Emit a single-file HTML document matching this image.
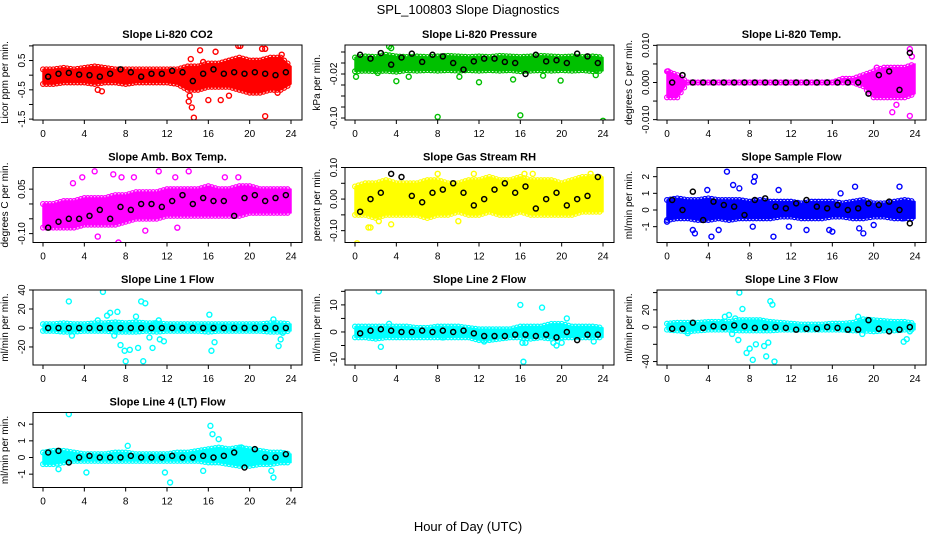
<!DOCTYPE html>
<html><head><meta charset="utf-8"><style>
body{margin:0;background:#fff;}
svg{display:block;font-family:"Liberation Sans",sans-serif;}
</style></head><body>
<svg id="chart" width="936" height="540" viewBox="0 0 936 540">
<text x="468" y="14" text-anchor="middle" font-size="13">SPL_100803  Slope Diagnostics</text>
<text x="468" y="531" text-anchor="middle" font-size="13">Hour of Day (UTC)</text>
</svg>
<script>
const xTicks=[0,4,8,12,16,20,24];
const blackHours=[0.5,1.5,2.5,3.5,4.5,5.5,6.5,7.5,8.5,9.5,10.5,11.5,12.5,13.5,14.5,15.5,16.5,17.5,18.5,19.5,20.5,21.5,22.5,23.5];

const p1Lo=[-0.3,-0.3,-0.25,-0.25,-0.25,-0.3,-0.25,-0.25,-0.3,-0.25,-0.25,-0.25,-0.25,-0.3,-0.5,-0.5,-0.4,-0.4,-0.4,-0.5,-0.6,-0.6,-0.5,-0.5,-0.3];
const p1Hi=[0.2,0.2,0.25,0.2,0.25,0.3,0.25,0.2,0.2,0.2,0.2,0.2,0.2,0.2,0.3,0.3,0.4,0.4,0.5,0.6,0.5,0.5,0.6,0.6,0.3];
const p1OutH=[5.3,5.7,14.1,14.2,14.4,14.6,14.3,15.2,15.5,16.0,16.7,17.2,18.0,18.9,19.1,20.3,21.2,21.5,21.5,22.7,23.1];
const p1OutV=[-0.5,-0.55,-0.9,-0.7,-1.1,-1.45,0.55,0.85,0.45,-0.85,0.8,-0.85,-0.7,1.0,1.0,-0.5,0.9,0.9,-1.4,-0.6,0.7];
const p1Black=[-0.05,0.05,0.08,0.02,0.0,-0.05,0.05,0.2,0.1,-0.05,0.05,0.05,0.15,0.1,-0.2,0.05,0.2,0.05,0.1,0.05,0.1,0.05,0.0,0.1];
const p1Ticks=[-1.5,-1,-0.5,0,0.5,1];
const p1Labels=["-1.5","","-0.5","","0.5",""];

const p2Lo=[-0.015,-0.014,-0.015,-0.014,-0.016,-0.013,-0.014,-0.013,-0.014,-0.013,-0.014,-0.013,-0.014,-0.013,-0.014,-0.013,-0.015,-0.014,-0.013,-0.014,-0.013,-0.014,-0.013,-0.015,-0.014];
const p2Hi=[0.01,0.012,0.011,0.015,0.012,0.011,0.012,0.011,0.012,0.013,0.012,0.011,0.012,0.011,0.013,0.012,0.011,0.012,0.013,0.012,0.011,0.012,0.011,0.012,0.01];
const p2OutH=[0.1,2.2,3.3,3.5,4.0,5.2,8.0,10.1,12.0,15.3,16.0,18.2,19.9,23.3,24.0];
const p2OutV=[-0.025,-0.018,0.03,0.027,-0.033,-0.025,-0.098,-0.025,-0.035,-0.03,-0.095,-0.023,-0.032,-0.022,-0.105];
const p2Black=[0.015,0.008,0.018,-0.003,0.01,0.017,0.002,0.015,0.012,0.0,-0.012,0.003,0.008,0.008,0.002,0.0,-0.02,0.015,0.003,0.005,0.0,0.017,0.012,0.0];
const p2Ticks=[-0.1,-0.08,-0.06,-0.04,-0.02,0,0.02];
const p2Labels=["-0.10","","","","-0.02","",""];

const p3Lo=[-0.004,-0.004,0,0,0,0,0,0,0,0,0,0,0,0,0,0,0,0,0,-0.001,-0.004,-0.004,-0.004,-0.004,-0.003];
const p3Hi=[0.003,0.002,0,0,0,0,0,0,0,0,0,0,0,0,0,0,0,0.001,0.001,0.002,0.003,0.004,0.004,0.004,0.005];
const p3OutH=[0.1,21.8,22.2,23.5,23.5,23.7,20.3];
const p3OutV=[0.003,-0.008,-0.006,0.009,-0.009,0.007,0.004];
const p3Black=[0,0.002,0,0,0,0,0,0,0,0,0,0,0,0,0,0,0,0,0,-0.003,0.002,0.003,-0.002,0.008];
const p3Ticks=[-0.01,-0.005,0,0.005,0.01];
const p3Labels=["-0.010","","0.000","","0.010"];

const p4Lo=[-0.08,-0.08,-0.08,-0.08,-0.07,-0.07,-0.07,-0.07,-0.06,-0.05,-0.05,-0.05,-0.04,-0.04,-0.04,-0.04,-0.04,-0.04,-0.04,-0.04,-0.03,-0.03,-0.03,-0.03,-0.03];
const p4Hi=[0.0,0.0,0.01,0.01,0.02,0.02,0.02,0.03,0.03,0.04,0.04,0.04,0.05,0.05,0.05,0.05,0.06,0.05,0.05,0.06,0.06,0.05,0.05,0.05,0.05];
const p4OutH=[5.0,5.3,7.3,7.6,8.8,11.2,12.8,14.1,17.6,18.9,2.9,3.8,6.8,9.9,13.0];
const p4OutV=[0.11,-0.11,-0.13,0.09,0.09,0.11,0.09,0.11,0.09,0.09,0.07,0.09,0.10,-0.09,-0.08];
const p4Black=[-0.08,-0.06,-0.05,-0.05,-0.04,-0.02,-0.05,-0.01,-0.02,0.0,0.0,-0.01,0.01,0.03,0.0,0.02,0.01,0.01,-0.04,0.02,0.03,0.01,0.02,0.03];
const p4Ticks=[-0.1,-0.05,0,0.05];
const p4Labels=["-0.10","","","0.05"];

const p5Lo=[-0.05,-0.05,-0.06,-0.05,-0.05,-0.05,-0.05,-0.06,-0.05,-0.05,-0.04,-0.05,-0.05,-0.04,-0.05,-0.05,-0.04,-0.05,-0.05,-0.05,-0.05,-0.05,-0.04,-0.04,-0.04];
const p5Hi=[0.04,0.05,0.05,0.06,0.05,0.05,0.05,0.06,0.06,0.05,0.05,0.06,0.06,0.07,0.06,0.06,0.07,0.06,0.06,0.06,0.05,0.06,0.07,0.07,0.07];
const p5OutH=[0.2,1.3,1.5,2.3,10.0,11.5,16.4,17.2,22.8,3.5,8.0];
const p5OutV=[-0.14,-0.09,-0.09,-0.07,-0.07,0.08,0.08,0.08,0.08,-0.08,0.08];
const p5Black=[-0.04,0.0,0.02,0.08,0.07,0.01,-0.01,0.02,0.03,0.05,0.02,-0.02,0.0,0.03,0.05,0.02,0.04,-0.03,0.0,0.02,-0.02,0.0,0.01,0.07];
const p5Ticks=[-0.1,-0.05,0,0.05,0.1];
const p5Labels=["-0.10","","0.00","","0.10"];

const p6Lo=[-0.6,-0.5,-0.5,-0.6,-0.6,-0.5,-0.6,-0.5,-0.5,-0.5,-0.5,-0.4,-0.4,-0.5,-0.5,-0.5,-0.4,-0.4,-0.5,-0.5,-0.4,-0.4,-0.5,-0.5,-0.5];
const p6Hi=[0.6,0.7,0.6,0.6,0.7,0.6,0.6,0.6,0.5,0.6,0.5,0.5,0.5,0.4,0.5,0.5,0.5,0.4,0.5,0.6,0.4,0.4,0.5,0.6,0.5];
const p6OutH=[0,2.5,2.7,4.3,5.0,5.8,6.4,8.5,8.4,8.3,10.3,10.8,13.5,15.7,16.0,18.2,18.6,19.0,20.0,22.5,22.8,3.9,7.0,11.8,16.8];
const p6OutV=[-0.7,-1.2,-1.4,-1.6,-1.2,2.3,1.5,2.0,1.7,-1.0,-1.6,1.2,-1.2,-1.2,-1.3,1.4,-1.1,-1.4,-0.9,1.4,-0.5,1.2,1.3,-1.0,1.0];
const p6Black=[0.6,0.0,1.1,-0.6,0.5,0.3,0.2,-0.3,0.6,0.7,0.2,0.1,0.4,0.6,0.2,0.1,0.3,0.0,0.1,0.4,0.3,0.5,0.0,-0.8];
const p6Ticks=[-1,0,1,2];
const p6Labels=["-1","0","1","2"];

const p7Lo=[-3,-3,-4,-4,-3,-3,-3,-4,-4,-4,-3,-4,-3,-3,-3,-3,-4,-3,-3,-3,-3,-3,-4,-4,-3];
const p7Hi=[4,4,5,4,4,5,5,6,5,6,5,5,4,4,4,4,4,4,4,4,4,4,5,5,4];
const p7OutH=[2.5,2.8,5.3,5.8,6.2,6.5,6.9,7.2,7.5,7.9,8.0,8.4,9.0,9.2,9.5,9.7,9.9,10.3,10.6,10.9,11.2,11.3,11.7,16.1,16.3,16.6,22.3,22.8,23.0,23.2];
const p7OutV=[28,-8,8,38,13,16,-8,17,-18,-24,-35,-23,12,-21,28,-35,26,-10,-21,5,8,-12,-14,14,-24,-15,9,-19,-12,-5];
const p7Black=[0,0,0,0,0,0,0,0,0,0,0,0,0,0,0,0,0,0,0,0,0,0,0,0];
const p7Ticks=[-20,0,20,40];
const p7Labels=["-20","0","20","40"];

const p8Lo=[-2,-2,-2.5,-2,-2,-2,-2,-2,-2,-2,-2,-2,-3,-3,-2.5,-2,-2,-2.5,-2,-2.5,-2,-2,-2,-2,-2];
const p8Hi=[2,2,2,2,2,2,1.5,1.5,2,2,2,1.5,1,1,1,1,2,2,2,3,3,2,2,2,1.5];
const p8OutH=[2.3,2.5,3.3,16.0,16.2,16.5,16.3,18.1,19.2,19.5,20.5,20.0,23.1,12.5,8.5];
const p8OutV=[15,-5.5,3,10,-4,-4,-11,9,-4,-5,5,-4,-3.5,-3.5,-2];
const p8Black=[-0.5,0.5,1,0.5,0,0,0.5,0,0.5,0,0.5,-0.5,-1.5,-1.5,-1.5,-1,-1,-1.5,-1,-2,0,-3,-1,-1];
const p8Ticks=[-10,-5,0,5,10,15];
const p8Labels=["-10","","0","","10",""];

const p9Lo=[-3,-4,-5,-4,-3,-3,-3,-4,-4,-4,-4,-3,-3,-3,-3,-3,-3,-3,-4,-4,-5,-4,-4,-3,-3];
const p9Hi=[4,5,5,5,6,6,6,8,8,8,6,5,4,3,3,3,4,4,5,9,8,7,6,6,4];
const p9OutH=[5.3,5.6,6.0,6.3,6.6,6.9,7.0,7.3,7.7,8.0,8.3,8.6,9.4,9.6,9.8,10.0,10.2,10.4,18.5,18.9,2.0,22.9,23.2,23.5];
const p9OutV=[5,12,14,-8,10,-15,40,21,-30,-25,-38,-20,-22,-34,-18,30,26,-40,12,-8,-7,-17,-14,-5];
const p9Black=[-2,-2,5,-1,1,0,2,1,-1,0,0,-1,-3,-2,-2,0,-1,-3,-3,8,-2,-5,-3,0];
const p9Ticks=[-40,-20,0,20,40];
const p9Labels=["-40","","0","20",""];

const p10Lo=[-0.4,-0.4,-0.3,-0.2,-0.2,-0.2,-0.2,-0.2,-0.2,-0.2,-0.2,-0.2,-0.2,-0.2,-0.2,-0.2,-0.3,-0.3,-0.4,-0.5,-0.5,-0.4,-0.4,-0.3,-0.3];
const p10Hi=[0.3,0.4,0.4,0.3,0.2,0.2,0.2,0.3,0.3,0.2,0.2,0.2,0.2,0.3,0.3,0.4,0.5,0.6,0.5,0.6,0.5,0.4,0.3,0.3,0.2];
const p10OutH=[2.5,1.5,4.2,8.2,11.8,12.3,16.2,16.4,17.0,19.2,22.1,22.3,15.5];
const p10OutV=[2.6,-0.7,-0.9,0.7,-0.9,-1.5,1.9,1.4,1.1,0.6,-0.8,-1.2,-0.8];
const p10Black=[0.3,0.4,-0.3,0,0.1,0,0,0,0.1,0,0,0,0.1,0,0,0.1,0,0.1,0.3,-0.6,0.5,0,0,0.2];
const p10Ticks=[-1,0,1,2];
const p10Labels=["-1","0","1","2"];

const NS="http://www.w3.org/2000/svg";
const svg=document.getElementById('chart');
function mk(tag,attrs,parent){const e=document.createElementNS(NS,tag);for(const k in attrs)e.setAttribute(k,attrs[k]);(parent||svg).appendChild(e);return e;}

const panels=[
 {name:'co2',title:'Slope Li-820 CO2',ylab:'Licor ppm per min.',col:0,row:0,ymin:-1.53,ymax:1.03,color:'#ff0000',lo:p1Lo,hi:p1Hi,oh:p1OutH,ov:p1OutV,bk:p1Black,ticks:p1Ticks,labels:p1Labels},
 {name:'pressure',title:'Slope Li-820 Pressure',ylab:'kPa per min.',col:1,row:0,ymin:-0.1036,ymax:0.0327,color:'#00c000',lo:p2Lo,hi:p2Hi,oh:p2OutH,ov:p2OutV,bk:p2Black,ticks:p2Ticks,labels:p2Labels},
 {name:'li820-temp',title:'Slope Li-820 Temp.',ylab:'degrees C per min.',col:2,row:0,ymin:-0.0101,ymax:0.0101,color:'#ff00ff',lo:p3Lo,hi:p3Hi,oh:p3OutH,ov:p3OutV,bk:p3Black,ticks:p3Ticks,labels:p3Labels},
 {name:'box-temp',title:'Slope Amb. Box Temp.',ylab:'degrees C per min.',col:0,row:1,ymin:-0.13,ymax:0.123,color:'#ff00ff',lo:p4Lo,hi:p4Hi,oh:p4OutH,ov:p4OutV,bk:p4Black,ticks:p4Ticks,labels:p4Labels},
 {name:'rh',title:'Slope Gas Stream RH',ylab:'percent per min.',col:1,row:1,ymin:-0.1375,ymax:0.10,color:'#ffff00',lo:p5Lo,hi:p5Hi,oh:p5OutH,ov:p5OutV,bk:p5Black,ticks:p5Ticks,labels:p5Labels},
 {name:'sample-flow',title:'Slope Sample Flow',ylab:'ml/min per min.',col:2,row:1,ymin:-1.95,ymax:2.55,color:'#0000ff',lo:p6Lo,hi:p6Hi,oh:p6OutH,ov:p6OutV,bk:p6Black,ticks:p6Ticks,labels:p6Labels},
 {name:'line1-flow',title:'Slope Line 1 Flow',ylab:'ml/min per min.',col:0,row:2,ymin:-39,ymax:40,color:'#00ffff',lo:p7Lo,hi:p7Hi,oh:p7OutH,ov:p7OutV,bk:p7Black,ticks:p7Ticks,labels:p7Labels},
 {name:'line2-flow',title:'Slope Line 2 Flow',ylab:'ml/min per min.',col:1,row:2,ymin:-12.2,ymax:15.5,color:'#00ffff',lo:p8Lo,hi:p8Hi,oh:p8OutH,ov:p8OutV,bk:p8Black,ticks:p8Ticks,labels:p8Labels},
 {name:'line3-flow',title:'Slope Line 3 Flow',ylab:'ml/min per min.',col:2,row:2,ymin:-44,ymax:43,color:'#00ffff',lo:p9Lo,hi:p9Hi,oh:p9OutH,ov:p9OutV,bk:p9Black,ticks:p9Ticks,labels:p9Labels},
 {name:'line4-flow',title:'Slope Line 4 (LT) Flow',ylab:'ml/min per min.',col:0,row:3,ymin:-1.8,ymax:2.7,color:'#00ffff',lo:p10Lo,hi:p10Hi,oh:p10OutH,ov:p10OutV,bk:p10Black,ticks:p10Ticks,labels:p10Labels}
];

panels.forEach(p=>{
  const L=33+p.col*312, R=L+269, T=45+p.row*122.5, B=T+75;
  const xs=h=>L+10+h*(248/24);
  const ys=v=>B-(v-p.ymin)/(p.ymax-p.ymin)*(B-T);
  const g=mk('g',{});
  
  
  const clip='clip'+p.name;
  const cp=mk('clipPath',{id:clip},g);mk('rect',{x:L,y:T,width:R-L,height:B-T},cp);
  const pg=mk('g',{'clip-path':'url(#'+clip+')'},g);
  let pts=[];
  p.lo.forEach((v,i)=>pts.push(xs(i)+','+ys(v)));
  for(let i=p.hi.length-1;i>=0;i--)pts.push(xs(i)+','+ys(p.hi[i]));
  const band=mk('polygon',{points:pts.join(' '),fill:p.color,stroke:p.color,'stroke-width':1.5,'stroke-linejoin':'round'},pg);
  
  
  for(let i=0;i<p.lo.length-1;i++){
    for(let k=0;k<3;k++){
      const f=k/3,h=i+f;
      const lo=p.lo[i]+(p.lo[i+1]-p.lo[i])*f, hi=p.hi[i]+(p.hi[i+1]-p.hi[i])*f;
      [lo,hi].forEach(v=>{const c=mk('circle',{cx:xs(h),cy:ys(v),r:2.4,fill:'none',stroke:p.color,'stroke-width':1.2},pg);
        
        });
    }
  }
  p.oh.forEach((h,i)=>{const c=mk('circle',{cx:xs(h),cy:ys(p.ov[i]),r:2.5,fill:'none',stroke:p.color,'stroke-width':1.4},pg);
    
    });
  p.bk.forEach((v,i)=>{const c=mk('circle',{cx:xs(blackHours[i]),cy:ys(v),r:2.5,fill:'none',stroke:'#000','stroke-width':1.5},pg);
    
    });
  const bx=mk('rect',{x:L,y:T,width:R-L,height:B-T,fill:'none',stroke:'#000','stroke-width':1},g);
  
  
  mk('line',{x1:xs(0),x2:xs(24),y1:B,y2:B,stroke:'#000'},g);
  xTicks.forEach(t=>{mk('line',{x1:xs(t),x2:xs(t),y1:B,y2:B+4,stroke:'#000'},g);
    const tx=mk('text',{x:xs(t),y:B+17,'text-anchor':'middle','font-size':10},g);tx.textContent=t;
    
    });
  p.ticks.forEach((t,i)=>{const y=ys(t);mk('line',{x1:L-4,x2:L,y1:y,y2:y,stroke:'#000'},g);
    if(p.labels[i]){const tx=mk('text',{x:L-8,y:y,'text-anchor':'middle','font-size':10,transform:'rotate(-90 '+(L-8)+' '+y+')'},g);tx.textContent=p.labels[i];
      
      }});
  const yl=mk('text',{x:L-25,y:(T+B)/2,'text-anchor':'middle','font-size':10,transform:'rotate(-90 '+(L-25)+' '+((T+B)/2)+')'},g);yl.textContent=p.ylab;
  
  
  const ti=mk('text',{x:(L+R)/2,y:T-7,'text-anchor':'middle','font-size':11,'font-weight':'bold'},g);ti.textContent=p.title;
  
  
});
</script>
</body></html>
